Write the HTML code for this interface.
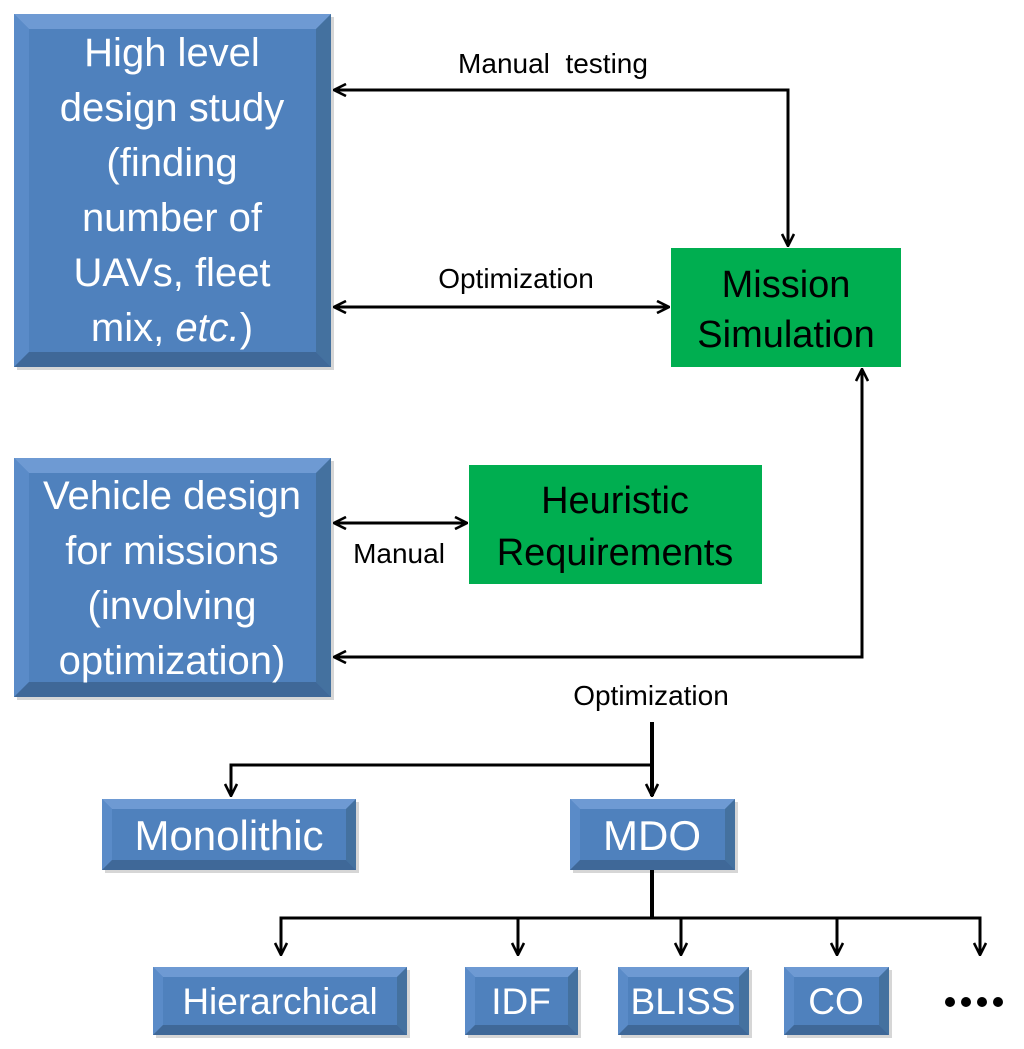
<!DOCTYPE html>
<html><head><meta charset="utf-8"><style>
html,body{margin:0;padding:0;background:#fff}
svg{display:block}
text{font-family:"Liberation Sans",sans-serif}
</style></head><body>
<svg width="1024" height="1049" viewBox="0 0 1024 1049" xmlns="http://www.w3.org/2000/svg">
<defs>
<marker id="a" viewBox="0 0 14 14" refX="13" refY="7" markerWidth="14" markerHeight="14" markerUnits="userSpaceOnUse" orient="auto-start-reverse">
<path d="M1,1 L13,7 L1,13" fill="none" stroke="#000" stroke-width="2.6"/>
</marker>
</defs>
<g id="boxes">
<rect x="17" y="17" width="317" height="353" fill="#bbb" opacity="0.6"/>
<rect x="14" y="14" width="317" height="353" fill="#4f81bd"/>
<polygon points="14,14 331,14 316,29 29,29" fill="#6e9ad3"/>
<polygon points="14,14 29,29 29,352 14,367" fill="#5a8bc8"/>
<polygon points="331,14 316,29 316,352 331,367" fill="#44719f"/>
<polygon points="14,367 29,352 316,352 331,367" fill="#3f6898"/>
<rect x="17" y="461" width="317" height="239" fill="#bbb" opacity="0.6"/>
<rect x="14" y="458" width="317" height="239" fill="#4f81bd"/>
<polygon points="14,458 331,458 316,473 29,473" fill="#6e9ad3"/>
<polygon points="14,458 29,473 29,682 14,697" fill="#5a8bc8"/>
<polygon points="331,458 316,473 316,682 331,697" fill="#44719f"/>
<polygon points="14,697 29,682 316,682 331,697" fill="#3f6898"/>
</g>
<rect x="671" y="248" width="230" height="119" fill="#00ae50"/>
<rect x="469" y="465" width="293" height="119" fill="#00ae50"/>

<g fill="#fff" font-size="40" text-anchor="middle">
<text x="172" y="66">High level</text>
<text x="172" y="121">design study</text>
<text x="172" y="176">(finding</text>
<text x="172" y="231">number of</text>
<text x="172" y="286">UAVs, fleet</text>
<text x="172" y="341">mix, <tspan font-style="italic">etc.</tspan>)</text>
<text x="172" y="509">Vehicle design</text>
<text x="172" y="564">for missions</text>
<text x="172" y="619">(involving</text>
<text x="172" y="674">optimization)</text>
</g>
<g fill="#000" font-size="38" text-anchor="middle">
<text x="786" y="297">Mission</text>
<text x="786" y="347">Simulation</text>
<text x="615" y="513">Heuristic</text>
<text x="615" y="565">Requirements</text>
</g>

<g>
<rect x="105" y="802" width="254" height="71" fill="#bbb" opacity="0.6"/>
<rect x="102" y="799" width="254" height="71" fill="#4f81bd"/>
<polygon points="102,799 356,799 346,809 112,809" fill="#6e9ad3"/>
<polygon points="102,799 112,809 112,860 102,870" fill="#5a8bc8"/>
<polygon points="356,799 346,809 346,860 356,870" fill="#44719f"/>
<polygon points="102,870 112,860 346,860 356,870" fill="#3f6898"/>

<rect x="573" y="802" width="165" height="71" fill="#bbb" opacity="0.6"/>
<rect x="570" y="799" width="165" height="71" fill="#4f81bd"/>
<polygon points="570,799 735,799 725,809 580,809" fill="#6e9ad3"/>
<polygon points="570,799 580,809 580,860 570,870" fill="#5a8bc8"/>
<polygon points="735,799 725,809 725,860 735,870" fill="#44719f"/>
<polygon points="570,870 580,860 725,860 735,870" fill="#3f6898"/>

<rect x="156" y="970" width="254" height="68" fill="#bbb" opacity="0.6"/>
<rect x="153" y="967" width="254" height="68" fill="#4f81bd"/>
<polygon points="153,967 407,967 397,977 163,977" fill="#6e9ad3"/>
<polygon points="153,967 163,977 163,1025 153,1035" fill="#5a8bc8"/>
<polygon points="407,967 397,977 397,1025 407,1035" fill="#44719f"/>
<polygon points="153,1035 163,1025 397,1025 407,1035" fill="#3f6898"/>

<rect x="468" y="970" width="113" height="68" fill="#bbb" opacity="0.6"/>
<rect x="465" y="967" width="113" height="68" fill="#4f81bd"/>
<polygon points="465,967 578,967 568,977 475,977" fill="#6e9ad3"/>
<polygon points="465,967 475,977 475,1025 465,1035" fill="#5a8bc8"/>
<polygon points="578,967 568,977 568,1025 578,1035" fill="#44719f"/>
<polygon points="465,1035 475,1025 568,1025 578,1035" fill="#3f6898"/>

<rect x="621" y="970" width="131" height="68" fill="#bbb" opacity="0.6"/>
<rect x="618" y="967" width="131" height="68" fill="#4f81bd"/>
<polygon points="618,967 749,967 739,977 628,977" fill="#6e9ad3"/>
<polygon points="618,967 628,977 628,1025 618,1035" fill="#5a8bc8"/>
<polygon points="749,967 739,977 739,1025 749,1035" fill="#44719f"/>
<polygon points="618,1035 628,1025 739,1025 749,1035" fill="#3f6898"/>

<rect x="787" y="970" width="105" height="68" fill="#bbb" opacity="0.6"/>
<rect x="784" y="967" width="105" height="68" fill="#4f81bd"/>
<polygon points="784,967 889,967 879,977 794,977" fill="#6e9ad3"/>
<polygon points="784,967 794,977 794,1025 784,1035" fill="#5a8bc8"/>
<polygon points="889,967 879,977 879,1025 889,1035" fill="#44719f"/>
<polygon points="784,1035 794,1025 879,1025 889,1035" fill="#3f6898"/>
</g>
<g fill="#fff" text-anchor="middle">
<text x="229" y="850" font-size="42">Monolithic</text>
<text x="652" y="850" font-size="42">MDO</text>
<text x="280" y="1014" font-size="37">Hierarchical</text>
<text x="521" y="1014" font-size="37">IDF</text>
<text x="683" y="1014" font-size="37">BLISS</text>
<text x="836" y="1014" font-size="37">CO</text>
</g>
<g fill="#000">
<circle cx="950" cy="1002" r="5"/><circle cx="966" cy="1002" r="5"/><circle cx="982" cy="1002" r="5"/><circle cx="998" cy="1002" r="5"/>
</g>

<g stroke="#000" stroke-width="3" fill="none">
<polyline points="334,90 788,90 788,246" marker-start="url(#a)" marker-end="url(#a)"/>
<line x1="334" y1="307" x2="669" y2="307" marker-start="url(#a)" marker-end="url(#a)"/>
<line x1="334" y1="523" x2="467" y2="523" marker-start="url(#a)" marker-end="url(#a)"/>
<polyline points="334,657 862,657 862,369" marker-start="url(#a)" marker-end="url(#a)"/>
<line x1="652" y1="722" x2="652" y2="796" marker-end="url(#a)" stroke-width="4"/>
<polyline points="652,765 231,765 231,796" marker-end="url(#a)"/>
<line x1="652" y1="870" x2="652" y2="918" stroke-width="4"/>
<polyline points="281,955 281,918 980,918 980,955" marker-end="url(#a)"/>
<line x1="281" y1="918" x2="281" y2="955" marker-end="url(#a)"/>
<line x1="518" y1="918" x2="518" y2="955" marker-end="url(#a)"/>
<line x1="681" y1="918" x2="681" y2="955" marker-end="url(#a)"/>
<line x1="837" y1="918" x2="837" y2="955" marker-end="url(#a)"/>
</g>
<g fill="#000" font-size="28" text-anchor="middle">
<text x="553" y="73" xml:space="preserve">Manual  testing</text>
<text x="516" y="288">Optimization</text>
<text x="399" y="563">Manual</text>
<text x="651" y="705">Optimization</text>
</g>
</svg>
</body></html>
